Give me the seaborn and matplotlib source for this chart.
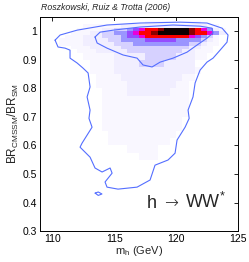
import numpy as np
import matplotlib
matplotlib.use("Agg")
import matplotlib.pyplot as plt
from matplotlib.colors import LinearSegmentedColormap
import seaborn as sns

# bin edges of the 2D histogram (m_h in GeV, BR ratio)
mh_edges = [110.5, 111.0, 111.5, 112.0, 112.5, 113.0, 113.5, 114.0, 114.5, 115.0,
            115.5, 116.0, 116.5, 117.0, 117.5, 118.0, 118.5, 119.0, 119.5, 120.0,
            120.5, 121.0, 121.5, 122.0, 122.5, 123.0, 123.5, 124.0, 124.5]
br_edges = [1.0375, 1.025, 1.0125, 1.0, 0.9875, 0.975, 0.9625, 0.95, 0.9375, 0.925,
            0.9, 0.875, 0.85, 0.825, 0.8, 0.775, 0.75, 0.725, 0.7, 0.675,
            0.65, 0.625, 0.6, 0.575, 0.55]

# posterior intensity per cell (0 = empty ... 9 = peak), top row first
density_rows = [
    "0000000000000011111111100000",
    "0000111111222222222222221100",
    "0001111223345677899998764210",
    "0011122334456778999998776420",
    "0111222333455677777776543100",
    "1111222233444455555444432100",
    "1111222223334444444443321100",
    "0011122222333333333332211000",
    "0001112222233333333322111000",
    "0000111112222233333222110000",
    "0000011112222333322222000000",
    "0000011112222222222222100000",
    "0000001111222222222211000000",
    "0000001111122222222110000000",
    "0000000111122222221110000000",
    "0000000111111111111110000000",
    "0000000111111111111110000000",
    "0000000111111111111110000000",
    "0000000111111111111100000000",
    "0000000111111111111100000000",
    "0000000011111111111000000000",
    "0000000011111111110000000000",
    "0000000000011111000000000000",
    "0000000000000111000000000000",
]

# credible region contours (m_h, BR)
outer_mh = [110.21, 110.62, 111.99, 114.41, 117.08, 120.31, 122.49, 123.71, 124.19, 124.11,
            123.55, 122.98, 122.49, 121.93, 121.53, 121.36, 120.96, 121.05, 120.72, 120.07,
            119.91, 119.34, 118.29, 117.89, 116.84, 115.30, 114.41, 114.25, 114.82, 114.66,
            114.01, 113.44, 113.04, 112.23, 112.39, 113.20, 112.95, 113.04, 112.80, 113.04,
            112.88, 112.47, 111.99, 111.42, 111.42, 111.02, 110.45, 110.21]
outer_br = [0.969, 0.987, 1.004, 1.022, 1.029, 1.032, 1.029, 1.011, 0.987, 0.962,
            0.934, 0.906, 0.892, 0.864, 0.819, 0.770, 0.724, 0.695, 0.664, 0.619,
            0.573, 0.549, 0.531, 0.479, 0.454, 0.447, 0.454, 0.472, 0.503, 0.521,
            0.507, 0.521, 0.559, 0.594, 0.608, 0.664, 0.695, 0.724, 0.770, 0.805,
            0.854, 0.871, 0.889, 0.906, 0.934, 0.941, 0.945, 0.969]
inner_mh = [113.44, 113.85, 114.90, 117.08, 119.75, 121.93, 122.90, 122.98, 122.49, 121.69,
            120.88, 119.75, 118.70, 118.05, 117.32, 116.84, 115.71, 114.41, 113.61, 113.44]
inner_br = [0.980, 0.997, 1.004, 1.015, 1.022, 1.018, 1.011, 0.994, 0.976, 0.952,
            0.927, 0.906, 0.892, 0.875, 0.882, 0.906, 0.917, 0.941, 0.959, 0.980]
island_mh = [113.45, 113.70, 114.00, 113.70, 113.45]
island_br = [0.433, 0.437, 0.430, 0.425, 0.433]

sns.set_theme(style="white")
plt.rcParams["font.family"] = ["Liberation Sans", "DejaVu Sans"]
plt.rcParams["mathtext.fontset"] = "custom"
plt.rcParams["mathtext.rm"] = "Liberation Sans"
plt.rcParams["mathtext.it"] = "Liberation Sans:italic"

cmap = LinearSegmentedColormap.from_list("post", [
    (0.0, (1.0, 1.0, 1.0)),
    (1 / 9, (0.975, 0.968, 1.0)),
    (2 / 9, (0.945, 0.932, 1.0)),
    (3 / 9, (0.84, 0.82, 1.0)),
    (4 / 9, (0.60, 0.58, 1.0)),
    (5 / 9, (0.58, 0.30, 1.0)),
    (6 / 9, (0.92, 0.0, 0.85)),
    (7 / 9, (1.0, 0.0, 0.0)),
    (8 / 9, (0.55, 0.0, 0.0)),
    (1.0, (0.05, 0.0, 0.0)),
])

Z = np.array([[int(c) for c in row] for row in density_rows])

fig = plt.figure(figsize=(2.49, 2.62), dpi=100)
ax = fig.add_axes([0.161, 0.118, 0.795, 0.817])
ax.pcolormesh(mh_edges, br_edges, Z, cmap=cmap, vmin=0, vmax=9, shading="flat")

line_col = (0.33, 0.43, 1.0)
for xs, ys in [(outer_mh, outer_br), (inner_mh, inner_br), (island_mh, island_br)]:
    sns.lineplot(x=xs, y=ys, sort=False, estimator=None, color=line_col, lw=0.8, ax=ax)

ax.set_xlim(109, 125)
ax.set_ylim(0.3, 1.05)
ax.set_xticks([110, 115, 120, 125])
ax.set_yticks([0.3, 0.4, 0.5, 0.6, 0.7, 0.8, 0.9, 1.0])
ax.set_yticklabels(["0.3", "0.4", "0.5", "0.6", "0.7", "0.8", "0.9", "1"])
ax.tick_params(direction="in", length=3, width=0.6, top=True, right=True,
               labelsize=7.5, pad=2, colors="black")
for s in ax.spines.values():
    s.set_color("black")
    s.set_linewidth(0.7)

ax.set_xlabel(r"m$_{\rm h}$ (GeV)", fontsize=8, labelpad=0)
ax.set_ylabel(r"BR$_{\rm CMSSM}$/BR$_{\rm SM}$", fontsize=8.5, labelpad=1)
# process label: h -> WW*
ax.text(117.65, 0.382, "h", fontsize=13, ha="left", va="baseline")
ax.text(119.6, 0.382, "\u2192", fontsize=12, ha="center", va="baseline",
        family="DejaVu Sans", fontweight="light")
ax.text(124.05, 0.382, "WW$^{*}$", fontsize=13, ha="right", va="baseline")
fig.text(0.165, 0.973, "Roszkowski, Ruiz & Trotta (2006)", fontsize=6.3,
         style="italic", ha="left", va="center")

fig.savefig("out.png", dpi=100)
